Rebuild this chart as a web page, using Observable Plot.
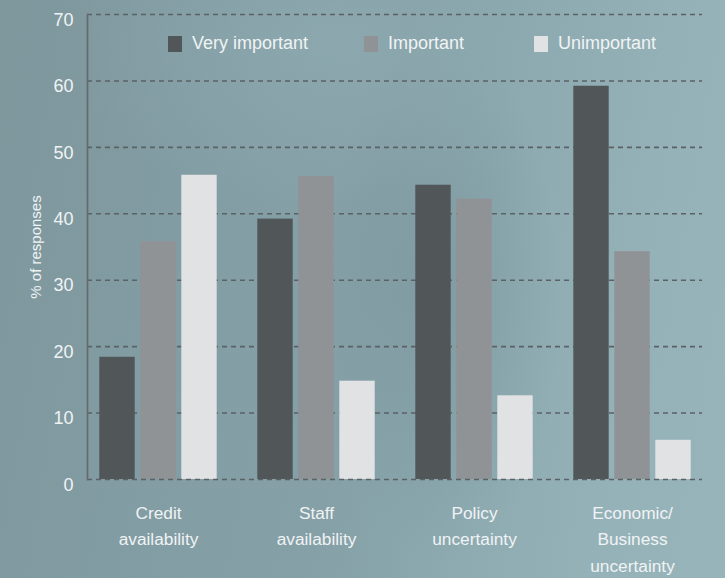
<!DOCTYPE html>
<html>
<head>
<meta charset="utf-8">
<script src="https://cdn.jsdelivr.net/npm/d3@7"></script>
<script src="https://cdn.jsdelivr.net/npm/@observablehq/plot@0.6"></script>
<style>
  html, body { margin: 0; padding: 0; }
  #wrap {
    position: relative; width: 725px; height: 578px; overflow: hidden;
    font-family: "Liberation Sans", Arial, sans-serif;
    background:
      radial-gradient(ellipse 260px 180px at 330px 40px, rgba(150,178,185,0.45), rgba(150,178,185,0) 100%),
      radial-gradient(ellipse 120px 260px at 440px 300px, rgba(110,135,142,0.35), rgba(110,135,142,0) 100%),
      linear-gradient(100deg, #7e979d 0%, #839ea5 35%, #85a0a7 50%, #8eabb2 68%, #96b2b9 85%, #98b4bb 100%);
  }
  #wrap svg { position: absolute; left: 0; top: 0; background: transparent; }
  .legend { position: absolute; left: 0; top: 0; width: 725px; height: 60px; pointer-events: none; }
  .legend .sw { position: absolute; top: 36px; width: 14px; height: 16px; }
  .legend .lb { position: absolute; top: 33px; font-size: 18px; line-height: 20px; color: #f0f3f4; white-space: nowrap; }
</style>
</head>
<body>
<div id="wrap"></div>
<script>
const categories = ["Credit availability", "Staff availability", "Policy uncertainty", "Economic/Business uncertainty"];
const categoryLabels = ["Credit\navailability", "Staff\navailability", "Policy\nuncertainty", "Economic/\nBusiness\nuncertainty"];
const series = ["Very important", "Important", "Unimportant"];
const veryImportant = [18.4, 39.2, 44.3, 59.2];
const important = [35.8, 45.6, 42.2, 34.3];
const unimportant = [45.8, 14.8, 12.6, 5.9];
const yTicks = [0, 10, 20, 30, 40, 50, 60, 70];
const seriesColors = ["#515659", "#909396", "#e1e2e4"];

const values = [veryImportant, important, unimportant];
const rows = [];
series.forEach((s, j) => categories.forEach((c, i) => rows.push({category: c, series: s, value: values[j][i]})));
const labelOf = new Map(categories.map((c, i) => [c, categoryLabels[i]]));

const textColor = "#f0f3f4";
const gridColor = "#5b6265";
// per-series bar placement inside each category band (36px bars, 5px gaps)
const insets = [[20.3, 102.3], [61.3, 61.3], [102.3, 20.3]];

const barMarks = series.map((s, j) =>
  Plot.barY(rows.filter(d => d.series === s), {
    x: "category", y: "value", fill: seriesColors[j],
    insetLeft: insets[j][0], insetRight: insets[j][1]
  })
);

const chart = Plot.plot({
  width: 725,
  height: 578,
  marginLeft: 87,
  marginRight: 23,
  marginTop: 14,
  marginBottom: 99,
  style: {background: "transparent", fontFamily: "'Liberation Sans', Arial, sans-serif", color: textColor},
  x: {domain: categories, range: [77.67, 712.33], padding: 0},
  y: {domain: [0, 70], ticks: yTicks},
  marks: [
    Plot.ruleY(yTicks.filter(t => t > 0), {stroke: gridColor, strokeWidth: 1.6, strokeDasharray: "5,4"}),
    ...barMarks,
    Plot.ruleY([0], {stroke: gridColor, strokeWidth: 1.6, strokeDasharray: "5,4"}),
    Plot.frame({anchor: "left", stroke: "#646a6d", strokeWidth: 1.7}),
    Plot.axisY(yTicks, {tickSize: 0, tickPadding: 14, fontSize: 18, dy: 5.5, fill: textColor, label: null}),
    Plot.axisX({tickSize: 0, tickPadding: 21, fontSize: 17.3, lineHeight: 1.52, fill: textColor, label: null,
      tickFormat: d => labelOf.get(d)}),
    Plot.text(["% of responses"], {frameAnchor: "left", textAnchor: "middle", dx: -51, rotate: -90, fontSize: 15, fill: textColor})
  ]
});

const wrap = document.getElementById("wrap");
wrap.appendChild(chart);

const legendPos = [[168, 192], [364, 388], [534, 558]];
const legend = document.createElement("div");
legend.className = "legend";
series.forEach((s, j) => {
  const sw = document.createElement("div");
  sw.className = "sw";
  sw.style.left = legendPos[j][0] + "px";
  sw.style.background = seriesColors[j];
  const lb = document.createElement("div");
  lb.className = "lb";
  lb.style.left = legendPos[j][1] + "px";
  lb.textContent = s;
  legend.appendChild(sw);
  legend.appendChild(lb);
});
wrap.appendChild(legend);
</script>
</body>
</html>
